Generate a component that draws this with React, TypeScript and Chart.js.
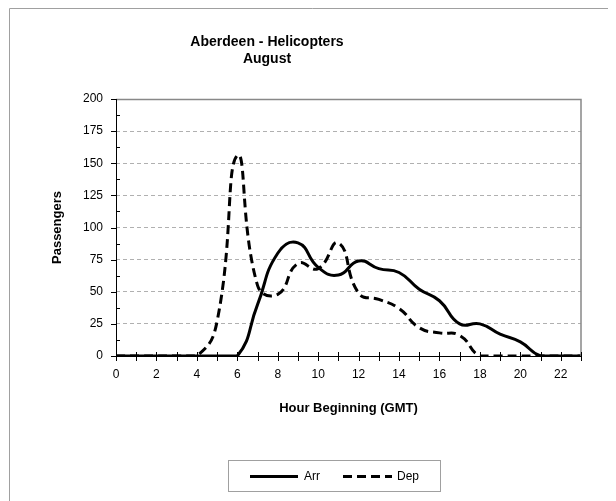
import React, { useEffect, useRef } from 'react';
import { Chart, registerables } from 'chart.js';

Chart.register(...registerables);

const hours = [0, 1, 2, 3, 4, 5, 6, 7, 8, 9, 10, 11, 12, 13, 14, 15, 16, 17, 18, 19, 20, 21, 22, 23];
const arrValues = [0, 0, 0, 0, 0, 0, 0, 40, 80, 88, 69, 63, 74, 68, 65, 52, 43, 25, 25, 17, 11, 0, 0, 0];
const depValues = [0, 0, 0, 0, 0, 27, 156, 55, 48, 72, 68, 88, 49, 44, 37, 22, 18, 16, 0, 0, 0, 0, 0, 0];
const seriesNames = ['Arr', 'Dep'];
const titleLines = ['Aberdeen - Helicopters', 'August'];
const xAxisTitle = 'Hour Beginning (GMT)';
const yAxisTitle = 'Passengers';
const yMin = 0;
const yMax = 200;
const yStep = 25;
const xMin = 0;
const xMax = 23;

const FONT = '"Liberation Sans", Arial, sans-serif';

const decorPlugin = {
  id: 'decor',
  afterDraw(chart: any) {
    const ctx = chart.ctx as CanvasRenderingContext2D;
    const area = chart.chartArea;
    const xs = chart.scales.x;
    const ys = chart.scales.y;
    ctx.save();
    // outer frame (top + left)
    ctx.strokeStyle = '#a0a0a0';
    ctx.lineWidth = 1;
    ctx.beginPath();
    ctx.moveTo(1.5, chart.height);
    ctx.lineTo(1.5, 0.5);
    ctx.lineTo(chart.width, 0.5);
    ctx.stroke();

    // plot border top + right
    ctx.strokeStyle = '#888888';
    ctx.lineWidth = 1.5;
    ctx.beginPath();
    ctx.moveTo(area.left, area.top + 0.5);
    ctx.lineTo(area.right, area.top + 0.5);
    ctx.lineTo(area.right, area.bottom);
    ctx.stroke();

    // axes
    ctx.strokeStyle = '#000';
    ctx.lineWidth = 1;
    ctx.beginPath();
    ctx.moveTo(area.left + 0.5, area.top);
    ctx.lineTo(area.left + 0.5, area.bottom);
    ctx.moveTo(area.left, area.bottom + 0.5);
    ctx.lineTo(area.right, area.bottom + 0.5);
    ctx.stroke();

    // x tick marks crossing the axis
    ctx.beginPath();
    for (const h of hours) {
      const px = Math.round(xs.getPixelForValue(h)) + 0.5;
      ctx.moveTo(px, area.bottom - 4);
      ctx.lineTo(px, area.bottom + 5);
    }
    // y major ticks outside, minor inside
    for (let v = yMin; v <= yMax; v += yStep) {
      const py = Math.round(ys.getPixelForValue(v)) + 0.5;
      ctx.moveTo(area.left - 5, py);
      ctx.lineTo(area.left, py);
      if (v < yMax) {
        const pm = Math.round(ys.getPixelForValue(v + yStep / 2)) + 0.5;
        ctx.moveTo(area.left, pm);
        ctx.lineTo(area.left + 4, pm);
      }
    }
    ctx.stroke();

    // titles
    ctx.fillStyle = '#000';
    ctx.textAlign = 'center';
    ctx.textBaseline = 'alphabetic';
    ctx.font = `bold 14px ${FONT}`;
    const tx = 259;
    ctx.fillText(titleLines[0], tx, 38);
    ctx.fillText(titleLines[1], tx, 55);

    ctx.font = `bold 13px ${FONT}`;
    ctx.textBaseline = 'middle';
    ctx.fillText(xAxisTitle, (area.left + area.right) / 2, 400);
    ctx.save();
    ctx.translate(49, (area.top + area.bottom) / 2);
    ctx.rotate(-Math.PI / 2);
    ctx.fillText(yAxisTitle, 0, 0);
    ctx.restore();

    // legend
    const lx = 220, ly = 452, lw = 212, lh = 31;
    ctx.strokeStyle = '#a0a0a0';
    ctx.lineWidth = 1;
    ctx.strokeRect(lx + 0.5, ly + 0.5, lw, lh);
    const cy = ly + lh / 2 + 1;
    ctx.strokeStyle = '#000';
    ctx.lineWidth = 3;
    ctx.beginPath();
    ctx.moveTo(242, cy);
    ctx.lineTo(290, cy);
    ctx.stroke();
    ctx.setLineDash([9, 5]);
    ctx.beginPath();
    ctx.moveTo(335, cy);
    ctx.lineTo(384, cy);
    ctx.stroke();
    ctx.setLineDash([]);
    ctx.font = `12px ${FONT}`;
    ctx.textAlign = 'left';
    ctx.fillText(seriesNames[0], 296, cy);
    ctx.fillText(seriesNames[1], 389, cy);
    ctx.restore();
  },
};

export default function App() {
  const ref = useRef<HTMLCanvasElement | null>(null);
  useEffect(() => {
    if (!ref.current) return;
    const chart = new Chart(ref.current, {
      type: 'line',
      data: {
        datasets: [
          {
            label: seriesNames[0],
            data: hours.map((h, i) => ({ x: h, y: arrValues[i] })),
            borderColor: '#000',
            borderWidth: 3,
            pointRadius: 0,
            tension: 0.5,
            fill: false,
          },
          {
            label: seriesNames[1],
            data: hours.map((h, i) => ({ x: h, y: depValues[i] })),
            borderColor: '#000',
            borderWidth: 3,
            borderDash: [9, 5],
            pointRadius: 0,
            tension: 0.5,
            fill: false,
          },
        ],
      },
      options: {
        responsive: false,
        animation: false,
        layout: { padding: { top: 91, right: 35, bottom: 0, left: 0 } },
        plugins: {
          legend: { display: false },
          title: { display: false },
          tooltip: { enabled: false },
        },
        scales: {
          x: {
            type: 'linear',
            min: xMin,
            max: xMax,
            afterFit: (s: any) => { s.height = 145; },
            ticks: {
              stepSize: 1,
              autoSkip: false,
              maxRotation: 0,
              padding: 6,
              color: '#000',
              font: { family: FONT, size: 12 },
              callback: (v: any) => (Number(v) % 2 === 0 ? String(v) : ''),
            },
            grid: { display: true, drawOnChartArea: false, drawTicks: true, tickLength: 5, color: 'rgba(0,0,0,0)' },
            border: { display: false },
          },
          y: {
            min: yMin,
            max: yMax,
            afterFit: (s: any) => { s.width = 108; },
            ticks: {
              stepSize: yStep,
              padding: 8,
              color: '#000',
              font: { family: FONT, size: 12 },
            },
            grid: {
              drawTicks: true,
              tickLength: 5,
              tickColor: 'rgba(0,0,0,0)',
              color: (c: any) => (c.tick && (c.tick.value === yMin || c.tick.value === yMax) ? 'rgba(0,0,0,0)' : '#b0b0b0'),
              lineWidth: 1,
            },
            border: { display: false, dash: [4, 3] },
          },
        },
      },
      plugins: [decorPlugin],
    });
    return () => chart.destroy();
  }, []);
  return <canvas ref={ref} width={608} height={493} style={{ display: 'block', width: 608, height: 493 }} />;
}
